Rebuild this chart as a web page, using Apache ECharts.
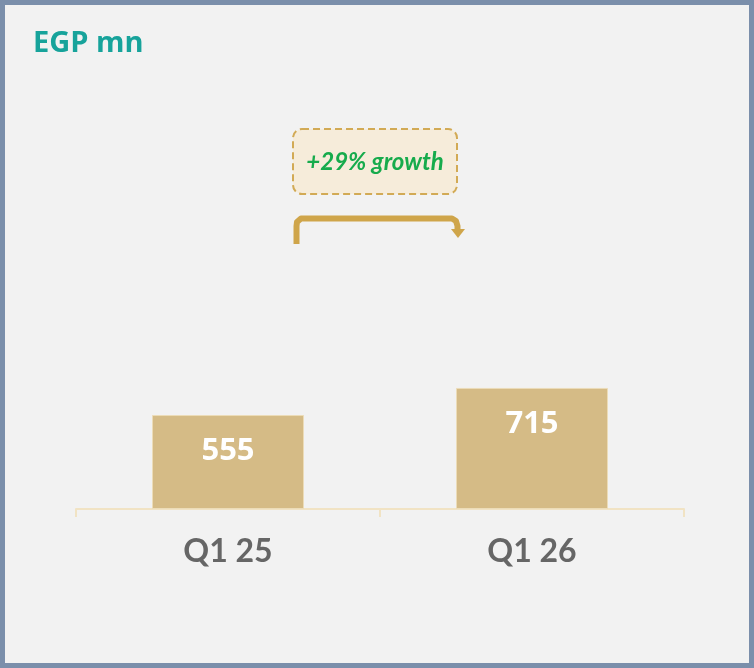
<!DOCTYPE html>
<html>
<head>
<meta charset="utf-8">
<script src="https://cdn.jsdelivr.net/npm/echarts@6/dist/echarts.min.js"></script>
<style>
  html, body { margin: 0; padding: 0; background: #f2f2f2; }
  #chart { width: 754px; height: 668px; }
</style>
</head>
<body>
<div id="chart"></div>
<script>
// Quarterly figures, EGP mn
const categories = ['Q1 25', 'Q1 26'];
const values = [555, 715];
const growthText = '+29% growth';
const unitTitle = 'EGP mn';

const chart = echarts.init(document.getElementById('chart'), null, { renderer: 'canvas' });

const gold = '#cfa54a';

chart.setOption({
  backgroundColor: '#f2f2f2',
  animation: false,
  title: {
    text: unitTitle,
    left: 28,
    top: 24,
    textStyle: { color: '#17a39b', fontFamily: 'Open Sans', fontWeight: 'bold', fontSize: 29 }
  },
  grid: { left: 76, right: 70, top: 255, bottom: 159 },
  xAxis: {
    type: 'category',
    data: categories,
    axisLine: { lineStyle: { color: '#f1e3c4', width: 2 } },
    axisTick: { show: true, length: 8, lineStyle: { color: '#f1e3c4', width: 2 } },
    axisLabel: {
      color: '#666666', fontFamily: 'Lato', fontWeight: 'bold', fontSize: 32, margin: 27
    }
  },
  yAxis: {
    type: 'value', min: 0, max: 1500, show: false, splitLine: { show: false }
  },
  series: [{
    type: 'bar',
    data: values,
    barWidth: '50%',
    itemStyle: { color: '#d5bb86', borderColor: '#ecdcb8', borderWidth: 1 },
    label: {
      show: true,
      position: 'insideTop',
      distance: 21,
      color: '#ffffff',
      fontFamily: 'Open Sans',
      fontWeight: 'bold',
      fontSize: 31
    }
  }],
  graphic: [
    {
      type: 'rect',
      left: 0, top: 0, z: 100,
      shape: { x: 2.5, y: 2.5, width: 749, height: 663 },
      style: { fill: 'none', stroke: '#7b8fab', lineWidth: 5 },
      silent: true
    },
    {
      type: 'rect',
      shape: { x: 293, y: 129, width: 164, height: 65, r: 9 },
      style: { fill: '#f6ecda', stroke: '#d2aa55', lineWidth: 2, lineDash: [7, 4] },
      silent: true
    },
    {
      type: 'text',
      style: {
        x: 375, y: 162, text: growthText, align: 'center', verticalAlign: 'middle',
        fill: '#16ab4c', font: 'italic bold 24px Lato'
      },
      silent: true
    },
    {
      type: 'polyline',
      shape: { points: [[296.5, 244], [296.5, 226], [297, 222], [301, 218.5], [452, 218.5], [456, 221], [457.5, 226], [457.5, 230]] },
      style: { fill: 'none', stroke: gold, lineWidth: 6, lineJoin: 'round' },
      silent: true
    },
    {
      type: 'polygon',
      shape: { points: [[451, 229], [465, 229], [458, 238]] },
      style: { fill: gold },
      silent: true
    }
  ]
});
</script>
</body>
</html>
